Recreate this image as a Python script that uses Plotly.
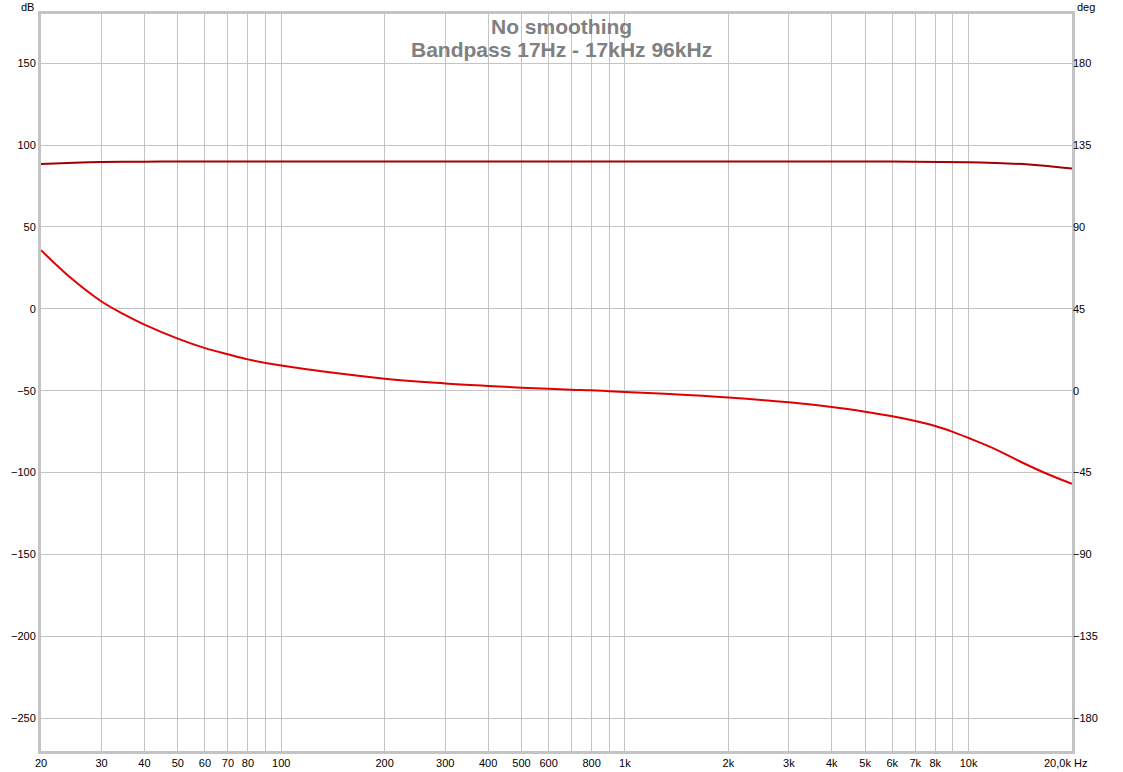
import plotly.graph_objects as go
import math

# Magnitude (dB, left axis)
mag_freq = [20, 25, 30, 40, 50, 70, 100, 300, 1000, 3000, 5000, 7000, 10000, 12000, 15000, 17000, 20000]
mag_db = [88.4, 89.2, 89.6, 89.85, 89.95, 90.0, 90.0, 90.0, 90.0, 90.0, 89.95, 89.8, 89.5, 89.0, 88.1, 87.2, 85.6]

# Phase (deg, right axis)
ph_freq = [20, 24.3, 30, 35, 40, 50, 60, 70, 80, 100, 200, 300, 400, 500, 600, 700, 800, 900, 1000,
           1350, 2000, 3000, 4000, 5000, 6000, 7000, 8000, 9000, 10000, 12080, 14120, 16500, 20000]
ph_deg = [77.2, 62.3, 49.0, 41.8, 36.3, 28.6, 23.4, 20.0, 17.2, 13.8, 6.6, 4.0, 2.6, 1.65, 1.1, 0.55, 0.2, -0.3, -0.7,
          -1.8, -3.7, -6.4, -9.0, -11.6, -14.1, -16.7, -19.4, -22.6, -26.0, -32.5, -38.9, -44.8, -51.2]

x_tickvals = [20, 30, 40, 50, 60, 70, 80, 90, 100, 200, 300, 400, 500, 600, 700, 800, 900, 1000,
              2000, 3000, 4000, 5000, 6000, 7000, 8000, 9000, 10000, 20000]
x_ticktext = ["20", "30", "40", "50", "60", "70", "80", "", "100", "200", "300", "400", "500", "600", "", "800", "", "1k",
              "2k", "3k", "4k", "5k", "6k", "7k", "8k", "", "10k", ""]

db_ticks = [150, 100, 50, 0, -50, -100, -150, -200, -250]
deg_ticks = [180, 135, 90, 45, 0, -45, -90, -135, -180]

title_lines = ["No smoothing", "Bandpass 17Hz - 17kHz 96kHz"]

FONT = "Liberation Sans, Arial, sans-serif"

fig = go.Figure()
fig.add_trace(go.Scatter(x=mag_freq, y=mag_db, mode="lines",
                         line=dict(color="#a00000", width=2, shape="spline", smoothing=0.8),
                         yaxis="y", showlegend=False))
fig.add_trace(go.Scatter(x=ph_freq, y=ph_deg, mode="lines",
                         line=dict(color="#e00000", width=2, shape="spline", smoothing=1.0),
                         yaxis="y2", showlegend=False))

W, H = 1123, 772
L, R, T, B = 41, 1072, 14, 751

fig.update_layout(
    width=W, height=H,
    margin=dict(l=L, r=W - R, t=T, b=H - B, pad=0, autoexpand=False),
    paper_bgcolor="white", plot_bgcolor="white",
    font=dict(family=FONT, size=11, color="black"),
    xaxis=dict(type="log", range=[math.log10(20), math.log10(20000)], automargin=False,
               tickmode="array", tickvals=x_tickvals, ticktext=x_ticktext,
               showgrid=True, gridcolor="#c4c4c4", gridwidth=1,
               showline=True, linecolor="#c4c4c4", linewidth=3, mirror=True,
               ticks="", zeroline=False, tickfont=dict(size=11, color="black")),
    yaxis=dict(range=[-270, 180], tickmode="array", tickvals=db_ticks, automargin=False,
               showgrid=True, gridcolor="#c4c4c4", gridwidth=1, zeroline=False,
               showline=True, linecolor="#c4c4c4", linewidth=3, mirror=True,
               ticks="", tickfont=dict(size=11, color="black")),
    yaxis2=dict(range=[-198, 207], overlaying="y", side="right", tickmode="array", tickvals=deg_ticks,
                automargin=False, showgrid=False, zeroline=False, ticks="",
                tickfont=dict(size=11, color="black")),
)

def px_x(p):
    return (p - L) / (R - L)

def px_y(p):
    return (B - p) / (B - T)

ann = [
    dict(text=title_lines[0], x=px_x(561), y=px_y(26)),
    dict(text=title_lines[1], x=px_x(561), y=px_y(49)),
]
for a in ann:
    fig.add_annotation(text=a["text"], x=a["x"], y=a["y"], xref="paper", yref="paper",
                       xanchor="center", yanchor="middle", showarrow=False,
                       font=dict(family=FONT, size=21, color="#808080", weight="bold"))

fig.add_annotation(text="dB", x=px_x(36), y=px_y(7), xref="paper", yref="paper",
                   xanchor="right", yanchor="middle", showarrow=False, font=dict(family=FONT, size=11))
fig.add_annotation(text="deg", x=px_x(1075), y=px_y(7), xref="paper", yref="paper",
                   xanchor="left", yanchor="middle", showarrow=False, font=dict(family=FONT, size=11))
fig.add_annotation(text="20,0k Hz", x=px_x(1089), y=px_y(763), xref="paper", yref="paper",
                   xanchor="right", yanchor="middle", showarrow=False, font=dict(family=FONT, size=11))

fig.write_html("out.html", config={"displayModeBar": False},
               post_script="document.body.style.margin='0px';document.body.style.padding='0px';")
